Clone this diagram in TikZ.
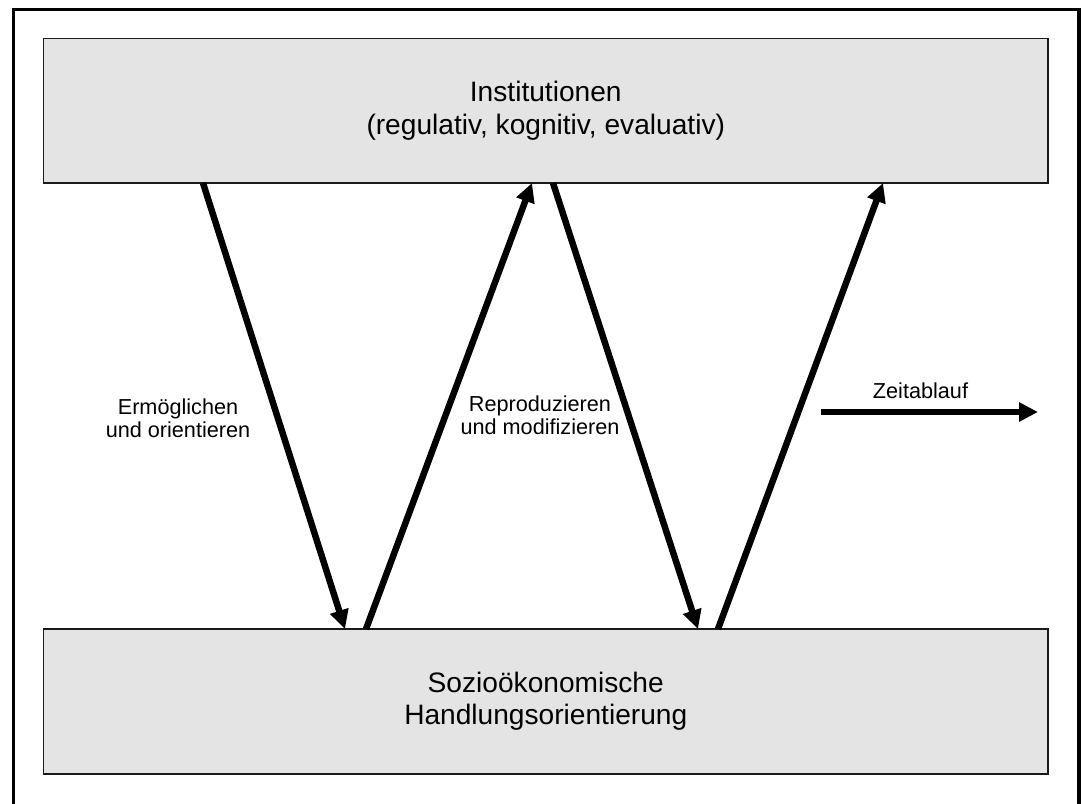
\documentclass[tikz,border=0pt]{standalone}
\usepackage{fontspec}
\setmainfont{Liberation Sans}
\usepackage{xcolor}
\usetikzlibrary{arrows.meta}
\definecolor{boxfill}{HTML}{E4E4E4}
\definecolor{boxline}{HTML}{1A1A1A}
\tikzset{
  frame/.style={draw=black, line width=2.2pt},
  panel/.style={draw=boxline, fill=boxfill, line width=1.1pt, inner sep=0pt,
    minimum width=25.11cm, align=center, font=\fontsize{20}{23}\selectfont},
  flow/.style={draw=black, line width=4.6pt, -{Triangle[length=13.5pt, width=13pt]}},
  lab/.style={align=center, font=\fontsize{15.4}{16.6}\selectfont}
}

\begin{document}
\begin{tikzpicture}[x=0.025cm, y=-0.025cm]
  \useasboundingbox (0,0) rectangle (1081,804);
  \draw[frame] (13.5,804) -- (13.5,9.5) -- (1079,9.5) -- (1079,804);
  % the two levels
  \node[panel, minimum height=3.61cm] (inst) at (545.75,110.75)
    {Institutionen\\(regulativ, kognitiv, evaluativ)};
  \node[panel, minimum height=3.625cm] (hand) at (545.75,701.5)
    {Sozioökonomische\\Handlungsorientierung};
  % end points on the box edges
  \coordinate (i1) at (203,183);
  \coordinate (i2) at (532,183);
  \coordinate (i3) at (553,183);
  \coordinate (i4) at (883,183);
  \coordinate (h1) at (345,629);
  \coordinate (h2) at (366,629);
  \coordinate (h3) at (698,629);
  \coordinate (h4) at (718,629);
  \draw[flow] (i1) -- (h1);
  \draw[flow] (h2) -- (i2);
  \draw[flow] (i3) -- (h3);
  \draw[flow] (h4) -- (i4);
  \node[lab] (ermo) at (178,418) {Ermöglichen\\und orientieren};
  \node[lab] (repro) at (540,415) {Reproduzieren\\und modifizieren};
  % time axis
  \coordinate (z0) at (821,412);
  \coordinate (z1) at (1038,412);
  \draw[flow] (z0) -- (z1);
  \node[lab] (zeit) at (920.5,391) {Zeitablauf};
\end{tikzpicture}
\end{document}
